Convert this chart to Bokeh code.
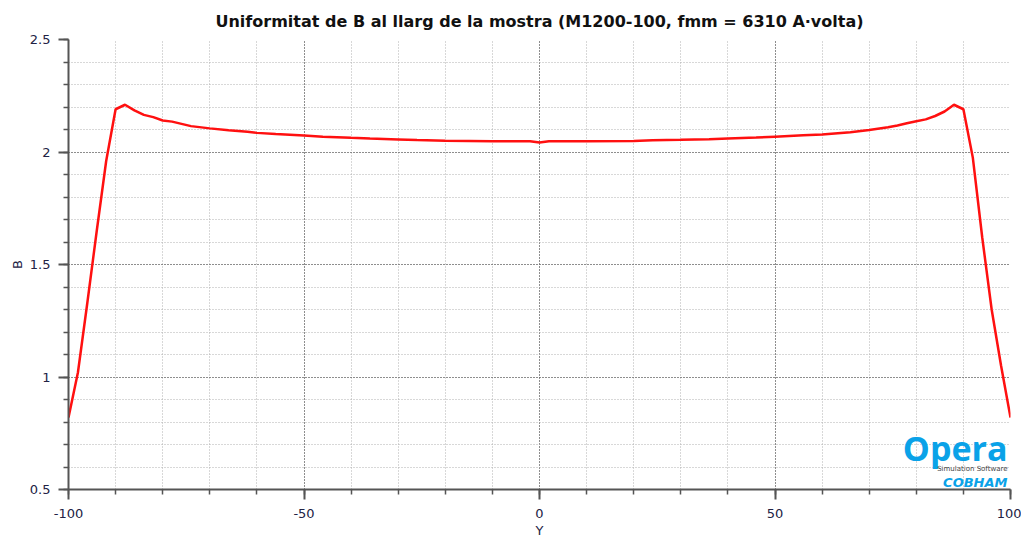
from bokeh.plotting import figure
from bokeh.models import FixedTicker, CustomJSTickFormatter, Label, Range1d
from bokeh.embed import file_html
from bokeh.resources import INLINE

title_text = "Uniformitat de B al llarg de la mostra (M1200-100, fmm = 6310 A\u00b7volta)"
x_label = "Y"
y_label = "B"

y_pos = [-100, -98, -96, -94, -92, -90, -88, -86, -84, -82, -80, -78, -76, -74, -70, -66,
         -62, -60, -56, -50, -46, -40, -36, -30, -26, -20, -10, -2, 0, 2, 10, 20, 24, 30,
         36, 40, 46, 50, 56, 60, 66, 70, 74, 76, 78, 80, 82, 84, 86, 88, 90, 92, 94, 96, 98, 100]
b_vals = [0.82, 1.02, 1.33, 1.65, 1.96, 2.19, 2.21, 2.185, 2.165, 2.155, 2.14, 2.135, 2.125,
          2.115, 2.105, 2.097, 2.09, 2.085, 2.08, 2.073, 2.068, 2.063, 2.06, 2.056, 2.053,
          2.05, 2.048, 2.048, 2.042, 2.048, 2.048, 2.049, 2.052, 2.054, 2.057, 2.06, 2.064,
          2.068, 2.074, 2.078, 2.088, 2.098, 2.11, 2.118, 2.128, 2.137, 2.145, 2.16, 2.18,
          2.21, 2.19, 1.975, 1.62, 1.3, 1.05, 0.82]

x_major = [-100, -50, 0, 50, 100]
x_minor = list(range(-100, 101, 10))
y_major = [0.5, 1.0, 1.5, 2.0, 2.5]
y_minor = [round(0.5 + 0.1 * k, 1) for k in range(21)]

p = figure(frame_width=942, frame_height=450, width=1021, height=542,
           min_border_left=68, min_border_right=11, min_border_top=39, min_border_bottom=53,
           x_range=Range1d(-100, 100), y_range=Range1d(0.5, 2.5),
           output_backend="svg", toolbar_location=None)

p.title.text = title_text
p.title.align = "center"
p.title.text_font = "DejaVu Sans"
p.title.text_font_style = "bold"
p.title.text_font_size = "16px"
p.title.text_color = "#111111"
p.title.offset = 0
p.title.standoff = 18

p.outline_line_color = None
p.background_fill_color = "white"
p.border_fill_color = "white"

fmt = CustomJSTickFormatter(code="return String(tick);")
for ax, major, minor, lab in ((p.xaxis[0], x_major, x_minor, x_label), (p.yaxis[0], y_major, y_minor, y_label)):
    ax.ticker = FixedTicker(ticks=major, minor_ticks=minor)
    ax.formatter = fmt
    ax.axis_label = lab
    ax.axis_label_text_font = "DejaVu Sans"
    ax.axis_label_text_font_style = "normal"
    ax.axis_label_text_font_size = "13px"
    ax.axis_label_text_color = "#222244"
    ax.axis_label_standoff = 2
    ax.major_label_text_font = "DejaVu Sans"
    ax.major_label_text_font_size = "13px"
    ax.major_label_text_color = "#222244"
    ax.axis_line_color = "#555555"
    ax.axis_line_width = 2
    ax.major_tick_line_color = "#555555"
    ax.major_tick_line_width = 2
    ax.minor_tick_line_color = "#555555"
    ax.minor_tick_line_width = 1.5
    ax.major_tick_out = 10
    ax.major_tick_in = 0
    ax.minor_tick_out = 5
    ax.minor_tick_in = 0
p.xaxis[0].major_label_standoff = 9
p.yaxis[0].major_label_standoff = 8

for g in (p.xgrid[0], p.ygrid[0]):
    g.grid_line_color = "#444444"
    g.grid_line_dash = "1 2"
    g.grid_line_width = 1
    g.minor_grid_line_color = "#b0b0b0"
    g.minor_grid_line_dash = "1 2"
    g.minor_grid_line_width = 1

p.line(y_pos, b_vals, line_color="#ff1010", line_width=2.5)

# Opera logo (screen units relative to the plot frame)
p.add_layout(Label(x=939, y=42, x_units="screen", y_units="screen",
                   text="Opera", text_font="Open Sans", text_font_size="34px",
                   text_font_style="bold",
                   text_color="#0aa2e8", text_align="right", text_baseline="alphabetic"))
p.add_layout(Label(x=939, y=21, x_units="screen", y_units="screen",
                   text="Simulation Software", text_font="DejaVu Sans", text_font_size="7px",
                   text_color="#444444", text_align="right", text_baseline="alphabetic"))
p.add_layout(Label(x=939, y=7, x_units="screen", y_units="screen",
                   text="COBHAM", text_font="DejaVu Sans", text_font_size="13px",
                   text_font_style="bold italic",
                   text_color="#0aa2e8", text_align="right", text_baseline="alphabetic"))

open("out.html", "w").write(file_html(p, INLINE))
